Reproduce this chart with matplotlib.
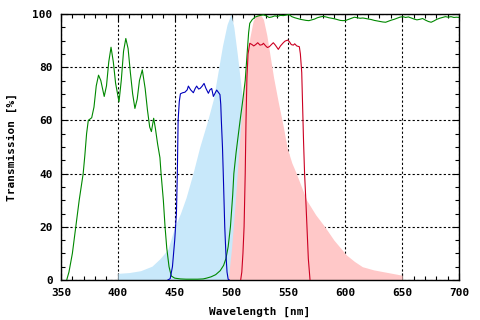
import numpy as np
import matplotlib
matplotlib.use("Agg")
import matplotlib.pyplot as plt
from matplotlib.ticker import MultipleLocator

# excitation spectrum (light blue fill)
ex_nm = [400, 410, 420, 430, 437, 444, 450, 455, 460, 466,
         472, 479, 484, 488, 492, 496, 499.5,
         502, 505, 508, 511, 514, 517, 520]
ex_val = [2.5, 2.8, 3.5, 5.2, 8, 11.5, 20, 25, 31, 40,
          50, 60, 68, 78, 88, 96, 100,
          95, 85, 74, 62, 45, 25, 0]

# emission spectrum (pink fill)
em_nm = [497, 500, 503, 505, 508, 510, 513, 516, 519, 522,
         525, 528, 531, 534, 537, 541, 545.5,
         549, 553, 557, 561, 566, 574, 582, 590, 601, 608,
         615, 625, 635, 650]
em_val = [0, 12, 28, 40, 58, 68, 80, 91, 97.5, 99.5,
          100, 98, 92, 84, 76, 67, 57.6,
          49.5, 44, 40, 35.5, 30, 24.5, 20, 15, 9.4, 7,
          5, 3.8, 3, 1.8]

# dichroic (green)
gr_nm = [355, 357, 360, 363, 366, 369.5, 371, 372.5, 374, 377,
         379, 381, 383, 385, 388, 390, 392, 394, 396, 398,
         401, 403, 405, 407, 409, 411, 413, 415, 417, 419,
         421.5, 424, 426, 428, 429.5, 431.5, 433, 435, 437, 438,
         440, 441.5, 443, 445, 447, 450, 455, 460, 465, 470,
         475, 478, 482, 486, 490, 493, 495, 497, 499, 501,
         502, 504, 507.5, 510, 512, 513.5, 515, 516, 518, 520.5,
         523, 525.5, 528, 530.5, 533, 535.5, 538, 540.5, 543, 545.5,
         548, 550.5, 553, 555.5, 558, 560.5, 563, 565.5, 568, 570.5,
         573, 575.5, 578, 580.5, 583, 585.5, 588, 590.5, 593, 595.5,
         598, 600.5, 603, 605.5, 608, 610.5, 613, 615.5, 618, 620.5,
         623, 625.5, 628, 630.5, 633, 635.5, 638, 640.5, 643, 645.5,
         648, 650.5, 653, 655.5, 658, 660.5, 663, 665.5, 668, 670.5,
         673, 675.5, 678, 680.5, 683, 685.5, 688, 690.5, 693, 695.5,
         698, 700]
gr_val = [0, 3, 10, 20, 30, 40, 47, 55, 60, 61,
          65, 73, 77, 75, 69, 73, 82, 87.5, 82, 74,
          67, 75, 86, 90.8, 87, 78, 70, 64.5, 68, 75,
          79, 72, 64, 57.5, 55.8, 60.8, 57, 51, 46, 40,
          30, 20, 12, 5, 1.5, 0.7, 0.4, 0.3, 0.3, 0.3,
          0.4, 0.7, 1.2, 2, 3.5, 5.5, 8, 12.5, 20, 32,
          40, 48, 60, 68, 75, 84, 93, 96.5, 97.8, 98.8,
          99.2, 99.5, 99.7, 99.3, 98.7, 98.9, 99.3, 99.1, 99.5, 99.4,
          99.6, 99.8, 99.0, 98.6, 98.3, 98.0, 97.8, 97.6, 97.5, 97.8,
          98.1, 98.6, 98.9, 99.1, 98.9, 98.6, 98.4, 98.2, 97.9, 97.6,
          97.5, 97.6, 98.0, 98.4, 98.8, 98.6, 98.4, 98.5, 98.3, 98.1,
          97.9, 97.6, 97.4, 97.2, 97.0, 96.9, 97.3, 97.7, 98.0, 98.4,
          98.8, 99.0, 98.7, 98.9, 98.5, 98.1, 97.8, 98.0, 98.3, 97.7,
          97.2, 96.9, 97.4, 98.0, 98.4, 98.7, 99.0, 98.8, 99.0, 98.7,
          98.8, 98.7]

# excitation filter (blue)
bl_nm = [444, 446, 448, 450, 451.5, 452.3, 453, 454, 455, 457,
         459, 461, 462, 464, 466.4, 468,
         469.3, 471, 472.3, 474, 475.8, 477.5, 479.6, 481, 482.5, 484,
         486.9, 488.5, 489.8,
         490.5, 491, 492, 492.7, 494, 495, 496, 497, 498]
bl_val = [0, 0.5, 5, 15, 25, 40, 60, 67, 70, 70.4,
          70.6, 71.5, 72.9, 71.5, 70.4, 72,
          72.9, 71.8, 72.0, 72.8, 73.9, 72, 70.2, 71.5, 72.0, 69,
          71.4, 70.5, 69.7,
          66, 60, 50, 40, 20, 10, 3, 0.3, 0]

# emission filter (red)
rd_nm = [508, 509, 510, 511, 512, 512.7, 513.5, 514.5, 516, 518,
         519.5, 521.2, 523, 525, 527,
         528, 530, 531.5, 533.2, 535, 536.7, 538.5, 541.1, 543, 545.5,
         547, 549.4, 551, 552.5,
         554.3, 555.5, 557.3, 559.6, 560.5, 561.7, 562.5, 563.3, 564.2, 565.3,
         566.3, 567.5, 569]
rd_val = [0, 3, 10, 20, 40, 60, 76, 85, 89, 88.5,
          88, 88.5, 89.2, 88.3, 88.5,
          89, 88, 87.4, 87.7, 88.5, 89.2, 88.3, 86.7, 88, 89.2,
          89.8, 90.2, 89.5, 88.5,
          88.3, 88.8, 88.0, 87.7, 85, 78, 65, 52, 40, 30,
          20, 8, 0]

font = {'family': 'DejaVu Sans Mono', 'weight': 'bold', 'size': 8}

fig = plt.figure(figsize=(4.8, 3.2), dpi=100)
ax = fig.add_axes([61 / 480, 40 / 320, 398 / 480, 266 / 320])

ax.fill_between(ex_nm, ex_val, 0, color='#c8e8fa', lw=0, zorder=1)
ax.fill_between(em_nm, em_val, 0, color='#ffc8c8', lw=0, zorder=1.1)
ax.plot(gr_nm, gr_val, color='#008800', lw=0.8, zorder=3)
ax.plot(bl_nm, bl_val, color='#0000bb', lw=0.8, zorder=3)
ax.plot(rd_nm, rd_val, color='#cc0022', lw=0.8, zorder=3)

ax.set_xlim(350, 700)
ax.set_ylim(0, 100)
ax.xaxis.set_major_locator(MultipleLocator(50))
ax.xaxis.set_minor_locator(MultipleLocator(10))
ax.yaxis.set_major_locator(MultipleLocator(20))
ax.yaxis.set_minor_locator(MultipleLocator(5))
ax.tick_params(which='both', direction='in', top=True, right=True, color='black')
ax.tick_params(which='major', length=5, width=0.8, pad=6)
ax.tick_params(which='minor', length=3, width=0.8)
ax.grid(True, which='major', color='black', linestyle=(0, (2, 2)), lw=0.8)
ax.set_axisbelow(True)
for s in ax.spines.values():
    s.set_linewidth(1.0)

for lab in ax.get_xticklabels() + ax.get_yticklabels():
    lab.set_fontfamily('DejaVu Sans Mono')
    lab.set_fontweight('bold')
    lab.set_fontsize(8)

ax.set_xlabel('Wavelength [nm]', fontdict=font, labelpad=6)
ax.set_ylabel('Transmission [%]', fontdict=font, labelpad=11)

fig.savefig('out.png', dpi=100)
